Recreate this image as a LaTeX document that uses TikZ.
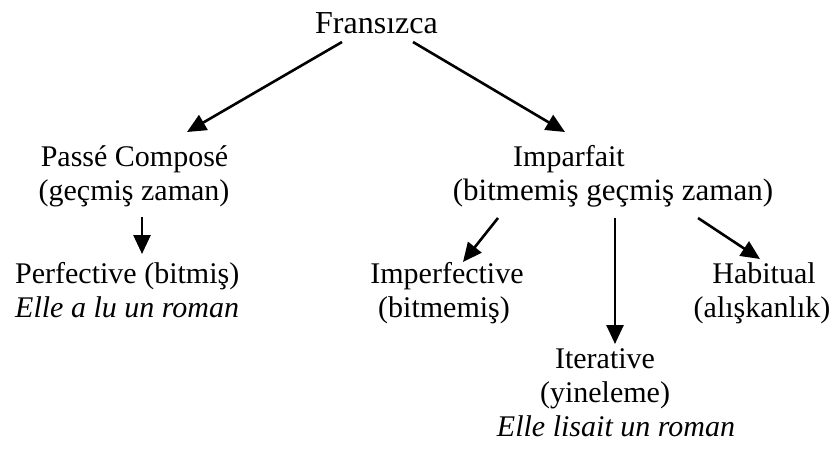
\documentclass[tikz,border=0pt]{standalone}
\usepackage{fontspec}
\setmainfont{Liberation Serif}
\usetikzlibrary{arrows.meta}
\begin{document}
\begin{tikzpicture}[x=1pt,y=-1pt,
  lbl/.style={inner sep=0pt,anchor=base,font=\fontsize{30}{34}\selectfont},
  ex/.style={lbl,font=\fontsize{30}{34}\selectfont\itshape},
  arr/.style={line width=2.6pt,-{Triangle[length=19pt,width=17pt]}}]
\useasboundingbox (0,0) rectangle (840,453);
% root
\node[lbl,font=\fontsize{32}{36}\selectfont] (fr) at (376.5,33) {Fransızca};
% first level
\node[lbl] (pc) at (134.5,166) {Passé Composé};
\node[lbl] (pcsub) at (134,200) {(geçmiş zaman)};
\node[lbl] (imp) at (569,166) {Imparfait};
\node[lbl,font=\fontsize{31}{35}\selectfont] (impsub) at (613,200) {(bitmemiş geçmiş zaman)};
% leaves
\node[lbl,anchor=base west] (pf) at (15,283) {Perfective (bitmiş)};
\node[ex,anchor=base west] (pfex) at (15,317) {Elle a lu un roman};
\node[lbl] (ipf) at (447,283) {Imperfective};
\node[lbl] (ipfsub) at (444,317) {(bitmemiş)};
\node[lbl] (hab) at (764,283) {Habitual};
\node[lbl] (habsub) at (762,317) {(alışkanlık)};
\node[lbl] (it) at (605,368) {Iterative};
\node[lbl] (itsub) at (605,402) {(yineleme)};
\node[ex] (itex) at (616,436) {Elle lisait un roman};
% connectors
\draw[arr] ([shift={(-34.5,9)}]fr.base) -- ([shift={(52.5,-34)}]pc.base);
\draw[arr] ([shift={(36.5,9)}]fr.base) -- ([shift={(-4,-34)}]imp.base);
\draw[arr] ([shift={(8,17)}]pcsub.base) -- ++(0,37);
\draw[arr] ([shift={(-115,18)}]impsub.base) -- ([shift={(16,-21)}]ipf.base);
\draw[arr] ([shift={(2,18)}]impsub.base) -- ([shift={(10,-24)}]it.base);
\draw[arr] ([shift={(85,18)}]impsub.base) -- ([shift={(-4,-24)}]hab.base);
\end{tikzpicture}
\end{document}
